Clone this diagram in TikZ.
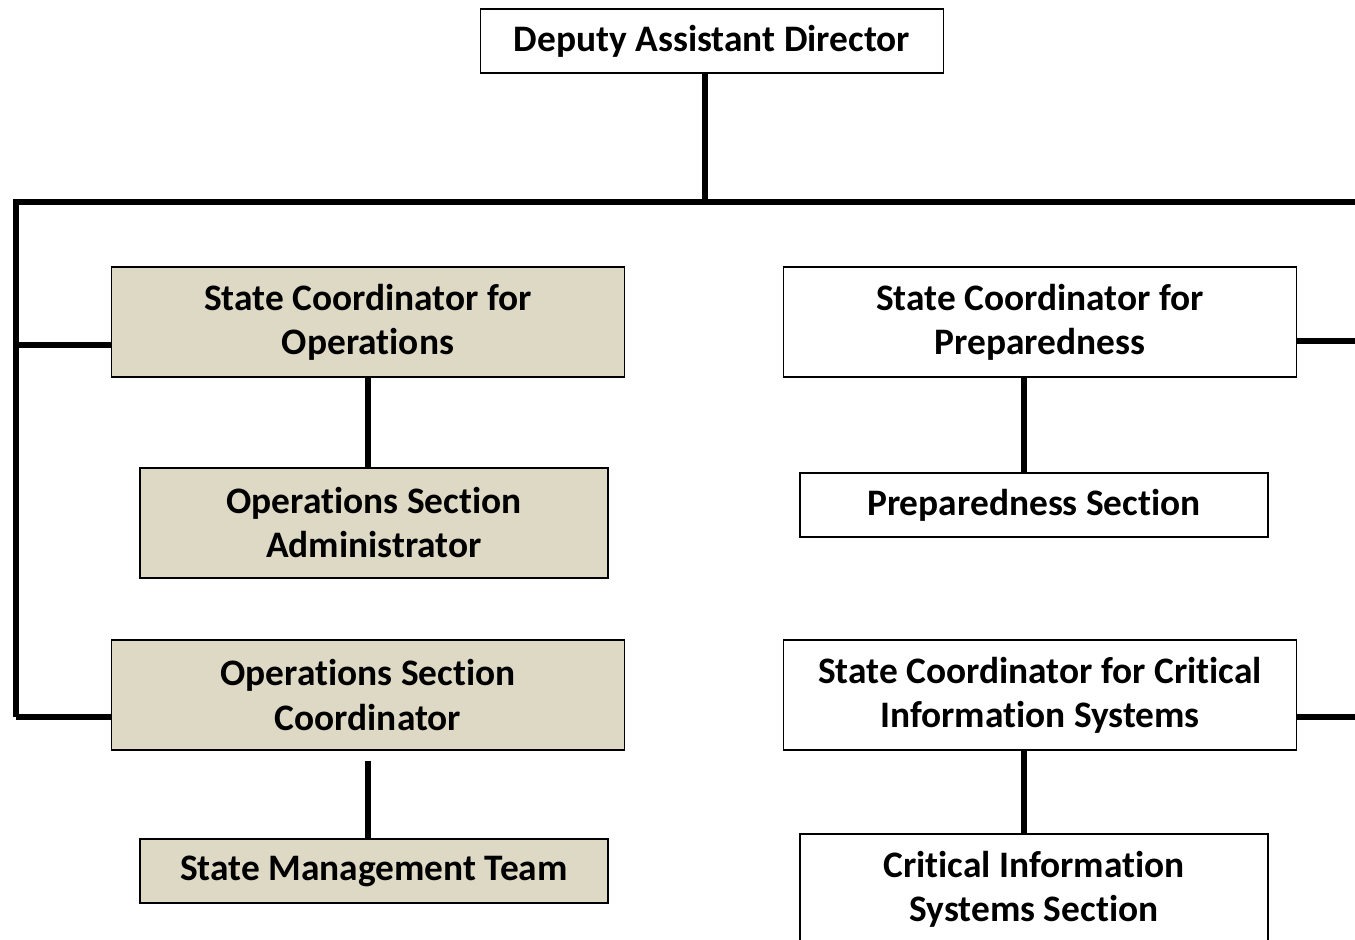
\documentclass[tikz,border=0pt]{standalone}
\usepackage{fontspec}
\setmainfont{Carlito}[Ligatures={NoCommon}]
\usetikzlibrary{calc}
\definecolor{opsfill}{RGB}{221,217,196}
\tikzset{office/.style={draw, line width=0.8pt, inner sep=0pt, align=center, font=\bfseries\fontsize{18.7}{22}\selectfont}}
\tikzset{ops/.style={office, fill=opsfill}}
\tikzset{wide/.style={minimum width=256.5pt, minimum height=55pt}}
\tikzset{narrow/.style={minimum width=234pt, minimum height=55pt}}
\tikzset{link/.style={line width=3pt}}

\begin{document}
\begin{tikzpicture}[x=0.5pt, y=-0.5pt]
	\useasboundingbox (0,0) rectangle (1355,939);

	% Boxes
	\node[office, minimum width=231.5pt, minimum height=32pt] (dad) at (712,41) {Deputy Assistant Director};

	\node[ops, wide] (sco) at (368,322) {State Coordinator for\\Operations};
	\node[ops, narrow] (osa) at (374,523) {Operations Section\\Administrator};
	\node[ops, wide] (osc) at (368,695) {Operations Section\\Coordinator};
	\node[ops, narrow, minimum height=32pt] (smt) at (374,871) {State Management Team};

	\node[office, wide] (scp) at (1040,322) {State Coordinator for\\Preparedness};
	\node[office, narrow, minimum height=32pt] (ps) at (1034,505) {Preparedness Section};
	\node[office, wide] (sccis) at (1040,695) {State Coordinator for Critical\\Information Systems};
	\node[office, narrow] (ciss) at (1034,889) {Critical Information\\Systems Section};

	\coordinate (busleft) at (16,202);	\coordinate (busmid) at (705,202);	\coordinate (busright) at (1360,202);
	\coordinate (westops) at (16,345);	\coordinate (eastprep) at (1360,341);
	\coordinate (westosc) at (16,717);	\coordinate (eastcis) at (1360,717);

	% Horizontals
	\draw[link] (westosc) -- (busleft) -- (busright);
	\draw[link] (westops) -- (westops -| sco.west);
	\draw[link] (westosc) -- (westosc -| osc.west);
	\draw[link] (eastprep -| scp.east) -- (eastprep);
	\draw[link] (eastcis -| sccis.east) -- (eastcis);

	% Verticals
	\draw[link] (busmid |- dad.south) -- (busmid);
	\draw[link] (sco.south) -- (sco.south |- osa.north);
	\draw[link, shorten <=5pt] (osc.south) -- (osc.south |- smt.north);
	\draw[link] ([xshift=-8pt]scp.south) -- ([xshift=-8pt]scp.south |- ps.north);
	\draw[link] ([xshift=-8pt]sccis.south) -- ([xshift=-8pt]sccis.south |- ciss.north);
\end{tikzpicture}
\end{document}
